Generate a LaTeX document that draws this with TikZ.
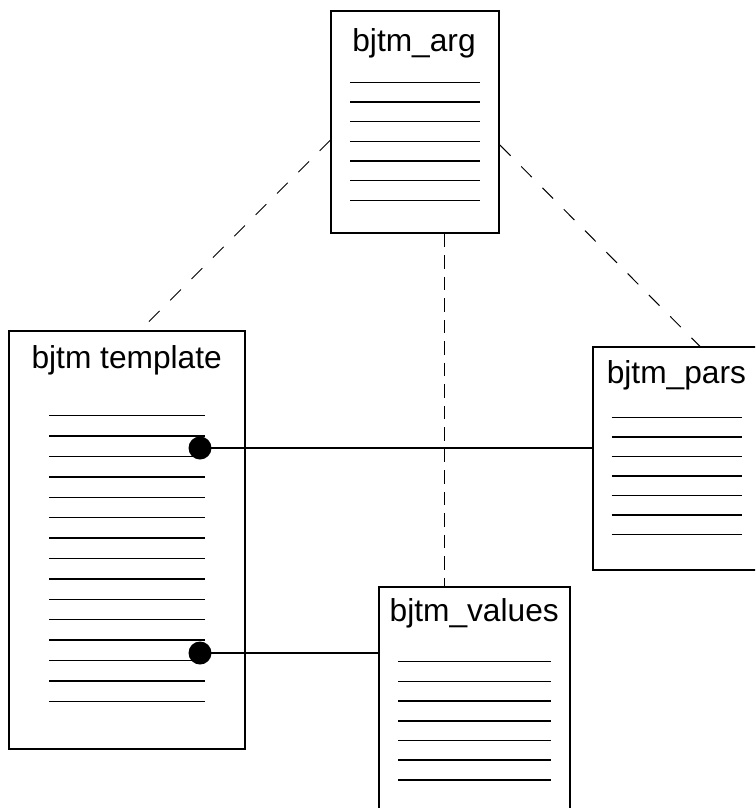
\documentclass[tikz,border=0pt]{standalone}
\usepackage{fontspec}
\setmainfont{Liberation Sans}
\usetikzlibrary{calc}

\tikzset{
  table/.style={draw=black, line width=1.8pt, fill=white, rectangle, inner sep=0pt},
  title/.style={anchor=base, inner sep=0pt, font=\fontsize{31.7}{38}\selectfont},
  row/.style={line width=1.5pt},
  link/.style={line width=1.3pt},
  weak/.style={line width=1pt, dash pattern=on 15.1pt off 15.1pt},
  weakv/.style={line width=1pt, dash pattern=on 13.3pt off 8.2pt},
  pin/.style={circle, fill=black, minimum size=23pt, inner sep=0pt}
}

\begin{document}
\begin{tikzpicture}[x=1pt, y=-1pt]
  \useasboundingbox (0,0) rectangle (755,808);
  \clip (0,0) rectangle (755,808);

  % tables
  \node[table, minimum width=167.7pt, minimum height=222.3pt] (arg) at (415.15,121.85) {};
  \node[table, minimum width=235.7pt, minimum height=418.6pt] (template) at (127.15,540) {};
  \node[table, minimum width=166.7pt, minimum height=222.7pt] (pars) at (676.65,458.65) {};
  \node[table, minimum width=191pt, minimum height=242.7pt] (values) at (474.5,708.65) {};

  % table names
  \node[title] (argname) at (414,51.7) {bjtm\_arg};
  \node[title] (templatename) at (126.7,368.3) {bjtm template};
  \node[title] (parsname) at (676.4,383.3) {bjtm\_pars};
  \node[title] (valuesname) at (474.2,621.7) {bjtm\_values};

  % field rows
  \foreach \i in {0,...,6}
    \draw[row] (350,82.3+19.68*\i) -- (480,82.3+19.68*\i);
  \foreach \i in {0,...,14}
    \draw[row] (49,415.7+20.4*\i) -- (205.3,415.7+20.4*\i);
  \foreach \i in {0,...,6}
    \draw[row] (611.7,417.3+19.5*\i) -- (742.3,417.3+19.5*\i);
  \foreach \i in {0,...,6}
    \draw[row] (398.3,661.7+19.7*\i) -- (551,661.7+19.7*\i);

  % dashed associations
  \coordinate (argL) at (arg.west |- 0,140.1);
  \coordinate (argR) at (arg.east |- 0,145);
  \coordinate (templateT) at (template.north -| 140.7,0);
  \coordinate (parsT) at (pars.north -| 700,0);
  \draw[weak] (argL) -- (templateT);
  \draw[weak] (argR) -- (parsT);
  \draw[weakv] (arg.south -| 444,0) -- (values.north -| 444,0);

  % solid references
  \node[pin] (pin1) at (200,448) {};
  \node[pin] (pin2) at (200,653) {};
  \draw[link] (pin1.center) -- (pin1.center -| pars.west);
  \draw[link] (pin2.center) -- (pin2.center -| values.west);
\end{tikzpicture}
\end{document}
